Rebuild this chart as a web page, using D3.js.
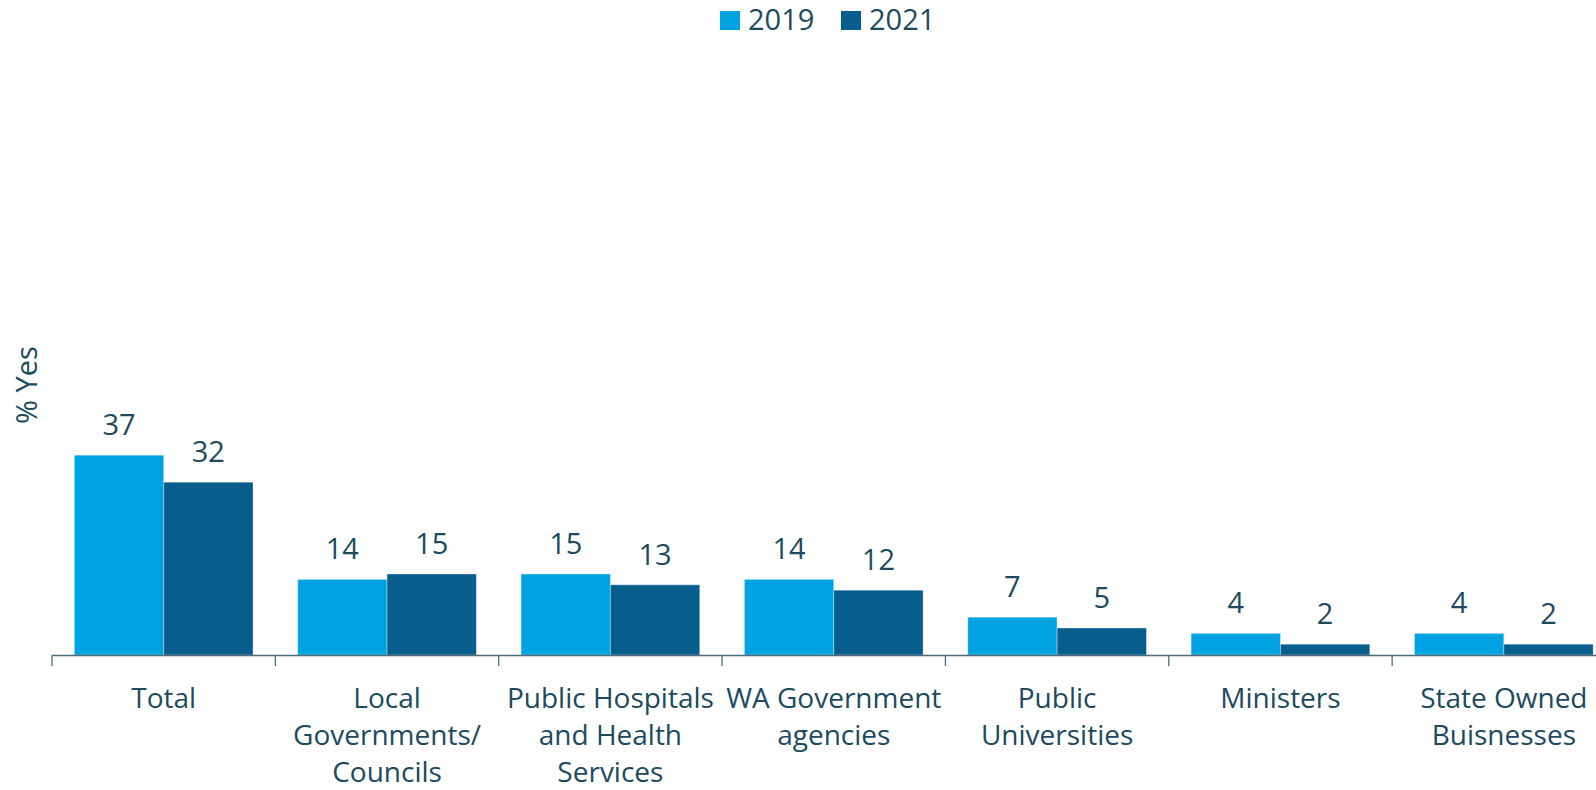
<!DOCTYPE html>
<html>
<head>
<meta charset="utf-8">
<script src="https://cdn.jsdelivr.net/npm/d3@7"></script>
<style>
  body { margin: 0; background: #fff; }
  svg text { font-family: "Open Sans", sans-serif; fill: #1c4a5f; }
</style>
</head>
<body>
<script>
const categories = ['Total', 'Local Governments/ Councils', 'Public Hospitals and Health Services',
  'WA Government agencies', 'Public Universities', 'Ministers', 'State Owned Buisnesses'];
const tickLines = [
  ['Total'],
  ['Local', 'Governments/', 'Councils'],
  ['Public Hospitals', 'and Health', 'Services'],
  ['WA Government', 'agencies'],
  ['Public', 'Universities'],
  ['Ministers'],
  ['State Owned', 'Buisnesses'],
];
const series = ['2019', '2021'];
const values2019 = [37, 14, 15, 14, 7, 4, 4];
const values2021 = [32, 15, 13, 12, 5, 2, 2];
const colors = ['#00a3e1', '#075e8c'];

const W = 1596, H = 790;
const plotLeft = 52, plotRight = 1615.5, plotTop = 115, plotBottom = 655;

const svg = d3.select('body').append('svg')
  .attr('width', W)
  .attr('height', H);

const x = d3.scaleBand()
  .domain(categories)
  .range([plotLeft, plotRight])
  .paddingInner(0.2)
  .paddingOuter(0.1);

const xs = d3.scaleBand()
  .domain(series)
  .range([0, x.bandwidth()]);

const y = d3.scaleLinear()
  .domain([0, 100])
  .range([plotBottom, plotTop]);

const rows = categories.map((c, i) => ({ cat: c, vals: [values2019[i], values2021[i]] }));

const groups = svg.selectAll('.grp')
  .data(rows)
  .enter().append('g')
  .attr('class', 'grp')
  .attr('transform', d => `translate(${x(d.cat)},0)`);

groups.selectAll('rect')
  .data(d => d.vals.map((v, j) => ({ s: series[j], v, j })))
  .enter().append('rect')
  .attr('x', d => xs(d.s))
  .attr('width', xs.bandwidth())
  .attr('y', d => y(d.v))
  .attr('height', d => plotBottom - y(d.v))
  .attr('fill', d => colors[d.j])
  .attr('stroke', 'rgba(255,255,255,0.35)')
  .attr('stroke-width', 1);

groups.selectAll('.val')
  .data(d => d.vals.map((v, j) => ({ s: series[j], v })))
  .enter().append('text')
  .attr('class', 'val')
  .attr('x', d => xs(d.s) + xs.bandwidth() / 2)
  .attr('y', d => y(d.v) - 20)
  .attr('text-anchor', 'middle')
  .style('font-size', '29px')
  .text(d => d.v);

// axis line and ticks at category boundaries
const step = x.step();
const boundaries = categories.map(c => x(c) - step * 0.1);
svg.append('line')
  .attr('x1', plotLeft).attr('x2', plotRight)
  .attr('y1', plotBottom + 0.5).attr('y2', plotBottom + 0.5)
  .attr('stroke', '#4d6b79').attr('stroke-width', 1.3);
svg.selectAll('.tick')
  .data(boundaries)
  .enter().append('line')
  .attr('x1', d => d).attr('x2', d => d)
  .attr('y1', plotBottom).attr('y2', plotBottom + 11)
  .attr('stroke', '#4d6b79').attr('stroke-width', 1.3);

// category labels
const labels = svg.selectAll('.cat')
  .data(categories)
  .enter().append('text')
  .attr('class', 'cat')
  .attr('text-anchor', 'middle')
  .style('font-size', '28px')
  .attr('transform', d => `translate(${x(d) + x.bandwidth() / 2},${708})`);
labels.selectAll('tspan')
  .data((d, i) => tickLines[i])
  .enter().append('tspan')
  .attr('x', 0)
  .attr('y', (d, i) => i * 37)
  .text(d => d);

// y axis title
svg.append('text')
  .attr('transform', `translate(37,${(plotTop + plotBottom) / 2}) rotate(-90)`)
  .attr('text-anchor', 'middle')
  .style('font-size', '29px')
  .text('% Yes');

// legend
const legend = svg.append('g');
const legX = [720, 841];
series.forEach((s, i) => {
  legend.append('rect')
    .attr('x', legX[i]).attr('y', 11)
    .attr('width', 20).attr('height', 19)
    .attr('fill', colors[i]);
  legend.append('text')
    .attr('x', legX[i] + 28).attr('y', 30)
    .style('font-size', '29px')
    .text(s);
});
</script>
</body>
</html>
